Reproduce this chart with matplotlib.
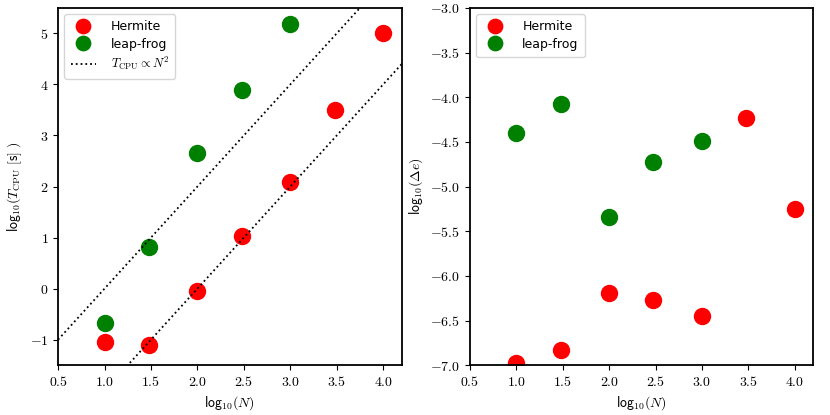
import numpy as np
from matplotlib import pyplot as plt
from matplotlib.ticker import FuncFormatter, MultipleLocator

plt.rcParams['mathtext.fontset'] = 'cm'
plt.rcParams['font.family'] = ['DejaVu Sans']

# number of particles (log10)
logN_hermite = [1.0, 1.477, 2.0, 2.477, 3.0, 3.477, 4.0]
logN_leapfrog = [1.0, 1.477, 2.0, 2.477, 3.0]

# CPU time, log10 seconds
logT_hermite = [-1.05, -1.10, -0.04, 1.03, 2.09, 3.50, 5.00]
logT_leapfrog = [-0.68, 0.81, 2.65, 3.90, 5.18]

# energy error, log10
logdE_hermite = [-6.98, -6.83, -6.19, -6.27, -6.45, -4.23, -5.25]
logdE_leapfrog = [-4.40, -4.08, -5.34, -4.72, -4.49]

# T ~ N^2 guide lines: log10 T = 2 log10 N + c
guide_offsets = [-2.0, -4.0]

fig = plt.figure(figsize=(8.3, 4.15), dpi=100)
ax1 = fig.add_axes([0.070, 0.120, 0.414, 0.861])
ax2 = fig.add_axes([0.566, 0.120, 0.414, 0.861])

leg_kw = dict(loc='upper left', fontsize=9, labelspacing=0.35, markerscale=0.9,
              handletextpad=1.2, borderpad=0.5)

ax1.plot(logN_hermite, logT_hermite, 'o', color='red', ms=11.5, label='Hermite')
ax1.plot(logN_leapfrog, logT_leapfrog, 'o', color='green', ms=11.5, label='leap-frog')
xx = np.linspace(0.5, 4.2, 50)
for i, c in enumerate(guide_offsets):
    ax1.plot(xx, 2 * xx + c, ':', color='black', lw=1.3,
             label=r'$T_{\rm CPU}\propto N^2$' if i == 0 else None)
ax1.set_xlim(0.5, 4.2)
ax1.set_ylim(-1.5, 5.5)
ax1.xaxis.set_major_locator(MultipleLocator(0.5))
ax1.yaxis.set_major_locator(MultipleLocator(1))
ax1.xaxis.set_major_formatter(FuncFormatter(lambda v, p: r'$%.1f$' % v))
ax1.yaxis.set_major_formatter(FuncFormatter(lambda v, p: r'$%d$' % round(v)))
ax1.set_xlabel(r'$\mathsf{log}_{10}(N)$')
ax1.set_ylabel(r'$\mathsf{log}_{10}(T_{\rm CPU}\ \mathsf{[s]}\ )$')
ax1.legend(**leg_kw)

ax2.plot(logN_hermite, logdE_hermite, 'o', color='red', ms=11.5, label='Hermite')
ax2.plot(logN_leapfrog, logdE_leapfrog, 'o', color='green', ms=11.5, label='leap-frog')
ax2.set_xlim(0.5, 4.2)
ax2.set_ylim(-7.0, -3.0)
ax2.xaxis.set_major_locator(MultipleLocator(0.5))
ax2.yaxis.set_major_locator(MultipleLocator(0.5))
ax2.xaxis.set_major_formatter(FuncFormatter(lambda v, p: r'$%.1f$' % v))
ax2.yaxis.set_major_formatter(FuncFormatter(lambda v, p: r'$%.1f$' % v))
ax2.set_xlabel(r'$\mathsf{log}_{10}(N)$')
ax2.set_ylabel(r'$\mathsf{log}_{10}(\Delta e)$')
ax2.legend(**leg_kw)

for ax in (ax1, ax2):
    for s in ax.spines.values():
        s.set_linewidth(1.3)
    ax.tick_params(labelsize=10)

fig.savefig('out.png', dpi=100)
